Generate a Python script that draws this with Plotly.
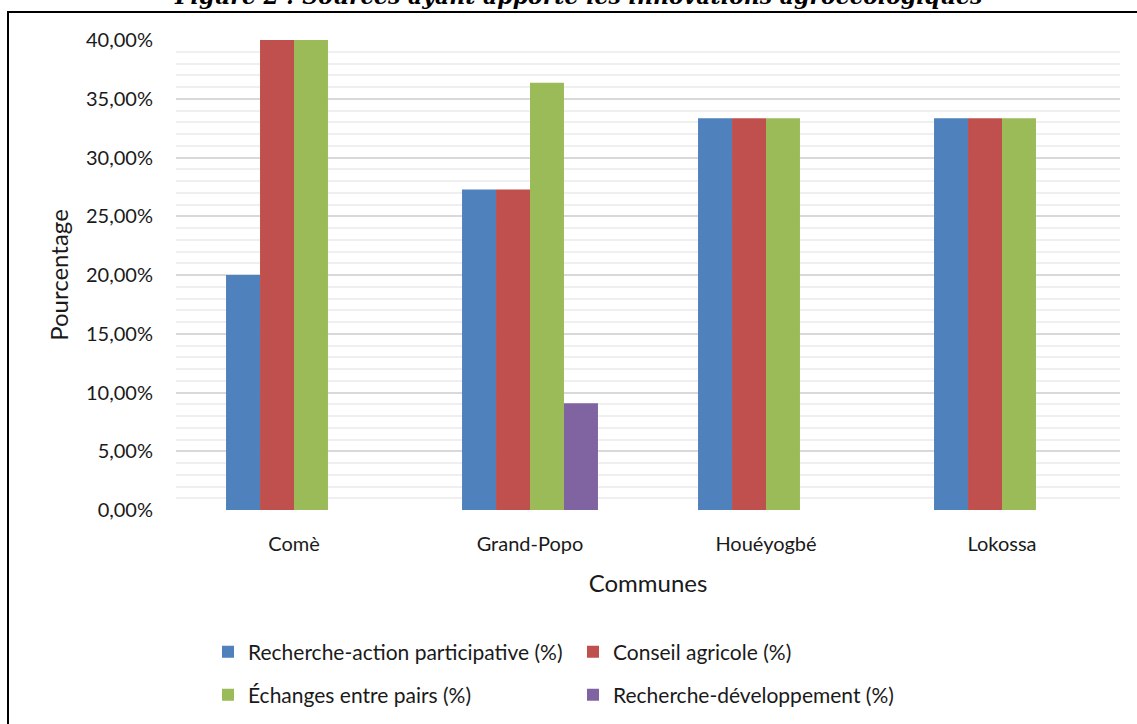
import plotly.graph_objects as go

# Communes and share of each source of agroecological innovation
communes = ["Comè", "Grand-Popo", "Houéyogbé", "Lokossa"]
recherche_action = [0.20, 0.2727, 0.3333, 0.3333]
conseil_agricole = [0.40, 0.2727, 0.3333, 0.3333]
echanges_pairs = [0.40, 0.3636, 0.3333, 0.3333]
recherche_dev = [0.0, 0.0909, 0.0, 0.0]

series_names = [
    "Recherche-action participative (%)",
    "Conseil agricole (%)",
    "Échanges entre pairs (%)",
    "Recherche-développement (%)",
]
series_values = [recherche_action, conseil_agricole, echanges_pairs, recherche_dev]
series_colors = ["#4F81BD", "#C0504D", "#9BBB59", "#8064A2"]
series_legends = ["legend", "legend", "legend2", "legend2"]

FONT = "Lato"
TXT = "#1a1a1a"
W, H = 1137, 724
ML, MR, MT, MB = 176, 17, 40, 214
plot_w = W - ML - MR
plot_h = H - MT - MB


def px_x(px):
    return (px - ML) / plot_w


def px_y(py):
    return (H - MB - py) / plot_h


fig = go.Figure()
for name, vals, col, lg in zip(series_names, series_values, series_colors, series_legends):
    fig.add_trace(go.Bar(
        x=communes, y=vals, name=name, legend=lg,
        marker=dict(color=col, line=dict(width=0)),
    ))

legend_common = dict(
    orientation="h", xanchor="left", yanchor="middle",
    entrywidth=320, entrywidthmode="pixels",
    font=dict(family=FONT, size=21, color=TXT),
    bgcolor="rgba(0,0,0,0)", traceorder="normal", itemclick=False,
)

fig.update_layout(
    width=W, height=H,
    margin=dict(l=ML, r=MR, t=MT, b=MB, autoexpand=False),
    paper_bgcolor="white", plot_bgcolor="white",
    barmode="group", bargap=0.424, bargroupgap=0,
    separators=", ",
    font=dict(family=FONT, size=20, color=TXT),
    showlegend=True,
    legend=dict(x=px_x(208), y=px_y(652), **legend_common),
    legend2=dict(x=px_x(208), y=px_y(695), **legend_common),
    xaxis=dict(
        title=dict(text="Communes", font=dict(size=24), standoff=21),
        showline=False, showgrid=False, ticks="",
        ticklabelstandoff=20,
        tickfont=dict(size=20),
    ),
    yaxis=dict(
        title=dict(text="Pourcentage", font=dict(size=24), standoff=10),
        range=[0, 0.40], dtick=0.05, tickformat=".2%",
        showgrid=True, gridcolor="#d9d9d9", gridwidth=2,
        zeroline=False, showline=False, ticks="",
        ticklabelstandoff=22,
        tickfont=dict(size=20),
        minor=dict(dtick=0.01, showgrid=True, gridcolor="#efefef", gridwidth=2),
    ),
    shapes=[
        dict(type="rect", xref="paper", yref="paper",
             x0=px_x(8), x1=px_x(1160), y0=px_y(760), y1=px_y(12),
             line=dict(color="black", width=2), fillcolor="rgba(0,0,0,0)",
             layer="below"),
    ],
    annotations=[
        dict(text="<b><i>Figure 2 : Sources ayant apporté les innovations agroécologiques</i></b>",
             xref="paper", yref="paper", x=px_x(578), y=px_y(-4),
             xanchor="center", yanchor="middle", showarrow=False,
             font=dict(family="DejaVu Serif", size=22, color="black")),
    ],
)

fig.write_html("out.html")
